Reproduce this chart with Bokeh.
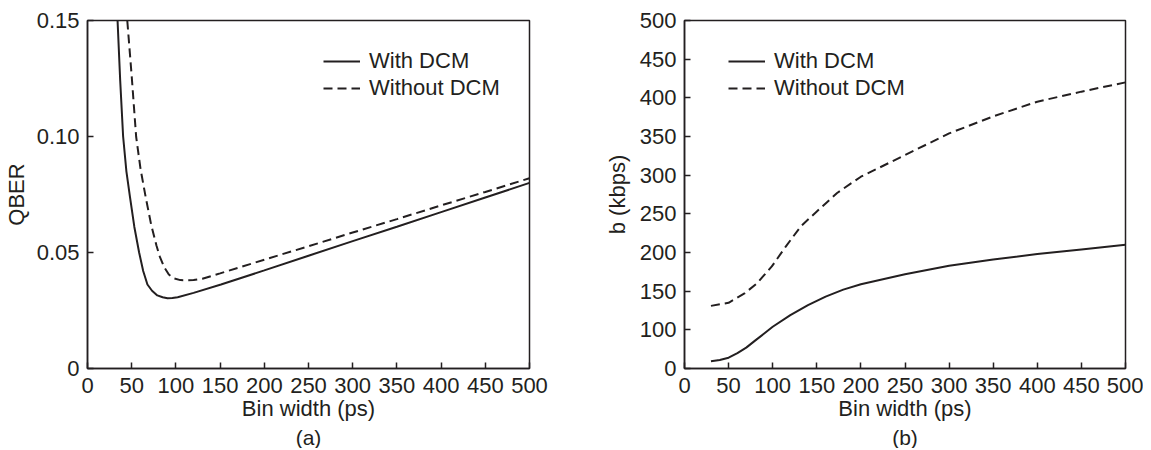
from bokeh.plotting import figure
from bokeh.models import Range1d, FixedTicker, Legend, LegendItem, Title
from bokeh.layouts import row
from bokeh.embed import file_html
from bokeh.resources import INLINE

# ---- data: panel (a) QBER vs bin width ----
qber_with_x = [34, 37, 40.3, 44, 48.2, 53, 58.4, 63, 67.8, 73, 79, 85, 90.5, 96, 102, 120, 151, 200, 250, 300, 350, 400, 450, 500]
qber_with_y = [0.150, 0.124, 0.100, 0.085, 0.0735, 0.061, 0.0500, 0.042, 0.0362, 0.0335, 0.0315, 0.0307, 0.0303, 0.0304, 0.0307, 0.0326, 0.0362, 0.0423, 0.0486, 0.0549, 0.0611, 0.0674, 0.0737, 0.0800]
qber_without_x = [45, 50, 55, 60, 66, 72, 78, 82, 87, 92, 98, 105, 112, 120, 130, 150, 200, 250, 300, 350, 400, 450, 500]
qber_without_y = [0.150, 0.126, 0.100, 0.086, 0.0735, 0.062, 0.053, 0.048, 0.0435, 0.0405, 0.0388, 0.0381, 0.0380, 0.0381, 0.0387, 0.0410, 0.0469, 0.0527, 0.0586, 0.0644, 0.0703, 0.0761, 0.0820]

# ---- data: panel (b) b (kbps) vs bin width (axis units as drawn) ----
rate_with_x = [30, 40, 50, 60, 70, 80, 90, 100, 120, 140, 160, 180, 200, 250, 300, 350, 400, 450, 500]
rate_with_y = [59.5, 61, 64, 70, 77, 86, 95, 104, 119, 132, 143, 152, 159, 172, 183, 191, 198, 204, 210]
rate_without_x = [30, 50, 68, 82, 99, 115, 132, 150, 173, 200, 250, 300, 350, 400, 450, 500]
rate_without_y = [131, 135, 147, 160, 182, 208, 234, 253, 277, 298, 326, 354, 376, 395, 408, 420]

x_ticks = [0, 50, 100, 150, 200, 250, 300, 350, 400, 450, 500]
qber_ticks = [0, 0.05, 0.10, 0.15]
qber_tick_labels = {0: "0", 0.05: "0.05", 0.1: "0.10", 0.15: "0.15"}
rate_ticks = [50, 100, 150, 200, 250, 300, 350, 400, 450, 500]
rate_tick_labels = {50: "0"}

series_names = ["With DCM", "Without DCM"]

INK = "#231f20"
FONT = "Liberation Sans"
FS = "22px"


def style(p, xlabel, ylabel, yticks, overrides, ylab_standoff):
    p.grid.visible = False
    p.outline_line_color = INK
    p.outline_line_width = 1.5
    for ax in (p.xaxis[0], p.yaxis[0]):
        ax.axis_line_color = INK
        ax.axis_line_width = 1.5
        ax.major_tick_line_color = INK
        ax.major_tick_line_width = 1.5
        ax.major_tick_in = 6
        ax.major_tick_out = 0
        ax.minor_tick_line_color = None
        ax.major_label_text_font = FONT
        ax.major_label_text_font_size = FS
        ax.major_label_text_color = INK
        ax.axis_label_text_font = FONT
        ax.axis_label_text_font_size = FS
        ax.axis_label_text_font_style = "normal"
        ax.axis_label_text_color = INK
    p.xaxis[0].ticker = FixedTicker(ticks=x_ticks)
    p.yaxis[0].ticker = FixedTicker(ticks=yticks)
    p.yaxis[0].major_label_overrides = overrides
    p.xaxis[0].axis_label = xlabel
    p.yaxis[0].axis_label = ylabel
    p.xaxis[0].major_label_standoff = 9
    p.xaxis[0].axis_label_standoff = 0
    p.yaxis[0].major_label_standoff = 8
    p.yaxis[0].axis_label_standoff = ylab_standoff


def make(xs1, ys1, xs2, ys2, yr, ylabel, yticks, overrides, tag, leg_x, ml, mr, fw, ylab_standoff):
    p = figure(frame_width=fw, frame_height=348, x_range=Range1d(0, 500), y_range=yr,
               output_backend="svg", toolbar_location=None,
               min_border_left=ml, min_border_right=mr, min_border_top=20, min_border_bottom=0)
    r1 = p.line(xs1, ys1, line_color=INK, line_width=2)
    r2 = p.line(xs2, ys2, line_color=INK, line_width=2, line_dash="9 5")
    style(p, "Bin width (ps)", ylabel, yticks, overrides, ylab_standoff)
    leg = Legend(items=[LegendItem(label=series_names[0], renderers=[r1]),
                        LegendItem(label=series_names[1], renderers=[r2])],
                 location=(leg_x, 267), padding=0, margin=0, spacing=1,
                 glyph_width=37, glyph_height=24, label_height=24, label_standoff=9,
                 border_line_color=None, background_fill_alpha=0,
                 label_text_font=FONT, label_text_font_size=FS, label_text_color=INK)
    p.add_layout(leg)
    t = Title(text=tag, align="center", text_font=FONT, text_font_size="21px",
              text_font_style="normal", text_color=INK, standoff=0, offset=0)
    p.add_layout(t, "below")
    return p


pa = make(qber_with_x, qber_with_y, qber_without_x, qber_without_y, Range1d(0, 0.15),
          "QBER", qber_ticks, qber_tick_labels, "(a)", 236, 85, 72, 442, 5)
pb = make(rate_with_x, rate_with_y, rate_without_x, rate_without_y, Range1d(50, 500),
          "b (kbps)", rate_ticks, rate_tick_labels, "(b)", 44, 80, 18, 441, 7)

layout = row(pa, pb)
open("out.html", "w").write(file_html(layout, INLINE))
